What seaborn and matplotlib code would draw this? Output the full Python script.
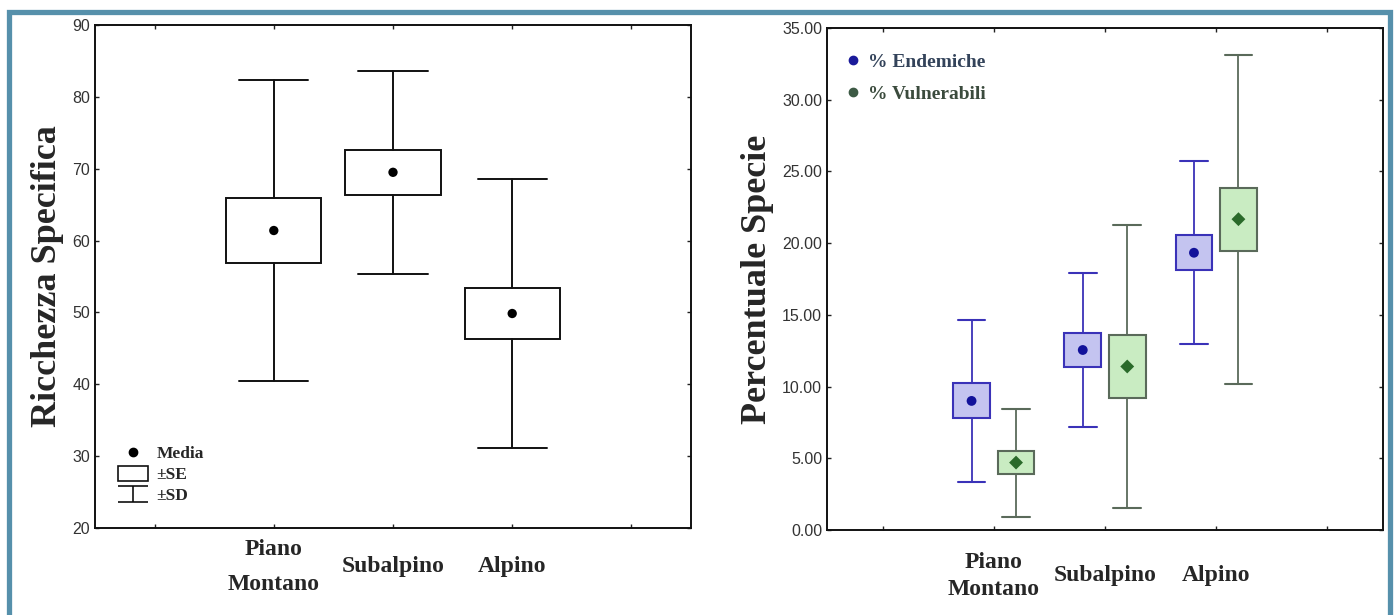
import matplotlib
matplotlib.use('Agg')
import matplotlib.pyplot as plt
import numpy as np
import pandas as pd
import seaborn as sns
from matplotlib.lines import Line2D
from matplotlib.patches import Patch, Rectangle
from matplotlib.path import Path

# summary data (mean, standard error, standard deviation)
fasce = ['Piano\nMontano', 'Subalpino', 'Alpino']

ricc_media = [61.4, 69.5, 49.85]
ricc_se = [4.5, 3.15, 3.6]
ricc_sd = [21.0, 14.15, 18.75]

gruppi = ['% Endemiche', '% Vulnerabili']
end_media = [9.0, 12.55, 19.33]
end_se = [1.22, 1.2, 1.22]
end_sd = [5.65, 5.38, 6.38]
vul_media = [4.7, 11.4, 21.67]
vul_se = [0.81, 2.2, 2.2]
vul_sd = [3.76, 9.85, 11.48]

sns.set_style('ticks')
plt.rcParams['font.family'] = ['Liberation Serif', 'DejaVu Serif']

serif_bold = dict(family='Liberation Serif', weight='bold')
tick_font = dict(family='Liberation Sans')

blu_fill, blu_edge, blu_dot = '#c4c4f0', '#3a32b8', '#12129a'
ver_fill, ver_edge, ver_dot = '#c9ecc2', '#5a6a5a', '#2a6a2a'


def make_stats(medie, se, sd):
    stats = []
    for m, s, d in zip(medie, se, sd):
        stats.append({'med': m, 'q1': m - s, 'q3': m + s,
                      'whislo': m - d, 'whishi': m + d, 'fliers': []})
    return stats


def style_axis(ax, ymin, ymax, step, fmt, spacing):
    ax.set_xlim(-0.5, 4.5)
    ax.set_ylim(ymin, ymax)
    ax.set_xticks(range(5))
    ax.set_xticklabels(['', fasce[0], fasce[1], fasce[2], ''],
                       fontsize=17, **serif_bold)
    for lbl in ax.get_xticklabels():
        lbl.set_va('center')
        lbl.set_linespacing(spacing)
    yt = np.arange(ymin, ymax + step / 2, step)
    ax.set_yticks(yt)
    ax.set_yticklabels([fmt.format(v) for v in yt], fontsize=11.5,
                       color='#333333', **tick_font)
    ax.tick_params(direction='in', length=3, width=1, top=True, right=True,
                   color='#222222')
    for s in ax.spines.values():
        s.set_visible(True)
        s.set_color('#111111')
        s.set_linewidth(1.4)


fig = plt.figure(figsize=(13.98, 6.15), dpi=100)
ax1 = fig.add_axes([95 / 1398, 1 - 528 / 615, 596 / 1398, 503 / 615])
ax2 = fig.add_axes([827 / 1398, 1 - 530 / 615, 556 / 1398, 502 / 615])

# left panel
pos = np.arange(1, 4)
line_k = dict(color='#111111', linewidth=1.4)
ax1.bxp(make_stats(ricc_media, ricc_se, ricc_sd), positions=pos, widths=0.8,
        capwidths=0.58, showfliers=False, patch_artist=True, manage_ticks=False,
        boxprops=dict(facecolor='white', edgecolor='#111111', linewidth=1.4),
        whiskerprops=line_k, capprops=line_k, medianprops=dict(visible=False))
df1 = pd.DataFrame({'x': pos, 'y': ricc_media})
sns.scatterplot(data=df1, x='x', y='y', ax=ax1, color='black', s=45,
                edgecolor='none', zorder=5, legend=False)
style_axis(ax1, 20, 90, 10, '{:.0f}', 1.85)
ax1.tick_params(axis='x', pad=28)
ax1.set_xlabel('')
ax1.set_ylabel('Ricchezza Specifica', fontsize=26, labelpad=6, **serif_bold)

sd_marker = Path([(-1, 0.55), (1, 0.55), (0, 0.55), (0, -0.55), (-1, -0.55), (1, -0.55)],
                 [Path.MOVETO, Path.LINETO, Path.MOVETO, Path.LINETO,
                  Path.MOVETO, Path.LINETO])
leg_handles = [
    Line2D([], [], marker='o', color='black', linestyle='none', markersize=6),
    Patch(facecolor='white', edgecolor='#111111', linewidth=1.2),
    Line2D([], [], marker=sd_marker, color='#111111', linestyle='none',
           markersize=22, markeredgewidth=1.2),
]
leg1 = ax1.legend(leg_handles, ['Media', '±SE', '±SD'], loc='lower left',
                  bbox_to_anchor=(0.013, 0.016), frameon=False,
                  prop=dict(family='Liberation Serif', weight='bold', size=12.5),
                  handlelength=1.7, handleheight=0.95, handletextpad=0.5,
                  labelspacing=0.2)

# right panel
offset = 0.2
ax2.bxp(make_stats(end_media, end_se, end_sd), positions=pos - offset,
        widths=0.33, capwidths=0.25, showfliers=False, patch_artist=True,
        manage_ticks=False,
        boxprops=dict(facecolor=blu_fill, edgecolor=blu_edge, linewidth=1.5),
        whiskerprops=dict(color=blu_edge, linewidth=1.3),
        capprops=dict(color=blu_edge, linewidth=1.5),
        medianprops=dict(visible=False))
ax2.bxp(make_stats(vul_media, vul_se, vul_sd), positions=pos + offset,
        widths=0.33, capwidths=0.25, showfliers=False, patch_artist=True,
        manage_ticks=False,
        boxprops=dict(facecolor=ver_fill, edgecolor=ver_edge, linewidth=1.5),
        whiskerprops=dict(color=ver_edge, linewidth=1.3),
        capprops=dict(color=ver_edge, linewidth=1.5),
        medianprops=dict(visible=False))
df2 = pd.DataFrame({
    'x': np.concatenate([pos - offset, pos + offset]),
    'y': end_media + vul_media,
    'gruppo': [gruppi[0]] * 3 + [gruppi[1]] * 3,
})
sns.scatterplot(data=df2, x='x', y='y', hue='gruppo', style='gruppo',
                markers={gruppi[0]: 'o', gruppi[1]: 'D'},
                palette={gruppi[0]: blu_dot, gruppi[1]: ver_dot},
                s=50, edgecolor='none', zorder=5, ax=ax2, legend=False)
style_axis(ax2, 0, 35, 5, '{:.2f}', 1.35)
ax2.tick_params(axis='x', pad=33)
ax2.set_xlabel('')
ax2.set_ylabel('Percentuale Specie', fontsize=26, labelpad=6, **serif_bold)

leg_handles2 = [
    Line2D([], [], marker='o', color='#1a1a9a', linestyle='none', markersize=6),
    Line2D([], [], marker='o', color='#3d5a45', linestyle='none', markersize=6),
]
leg2 = ax2.legend(leg_handles2, gruppi, loc='upper left',
                  bbox_to_anchor=(-0.006, 0.985), frameon=False,
                  prop=dict(family='Liberation Serif', weight='bold', size=14),
                  handlelength=1.2, handletextpad=0.2, labelspacing=0.75)
leg2.get_texts()[0].set_color('#33435a')
leg2.get_texts()[1].set_color('#3b4b3d')

# outer frame
fig.add_artist(Rectangle((8.5 / 1398, -0.05), (1390 - 8.5) / 1398,
                         1.05 - 11.5 / 615, transform=fig.transFigure,
                         fill=False, edgecolor='#5690ab', linewidth=3.8,
                         clip_on=False))

fig.savefig('out.png', dpi=100, facecolor='white')
